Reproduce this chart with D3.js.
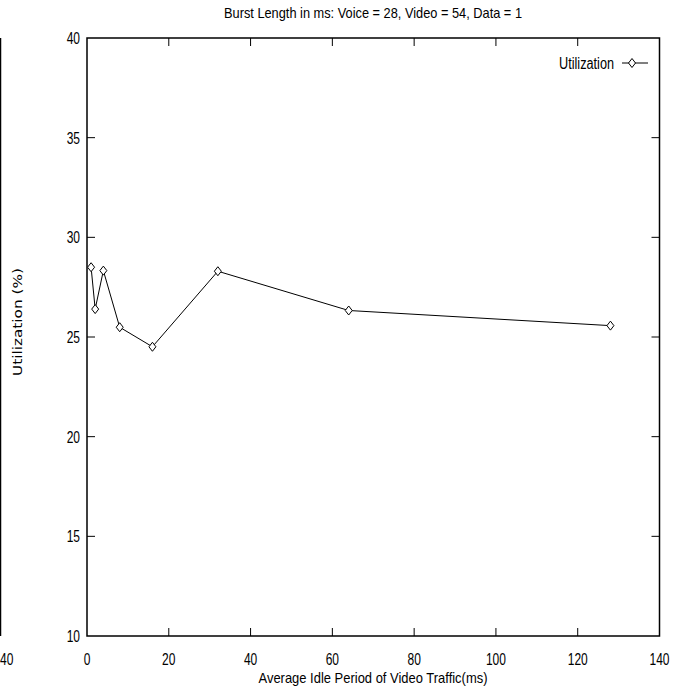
<!DOCTYPE html>
<html><head><meta charset="utf-8">
<script src="https://cdn.jsdelivr.net/npm/d3@7"></script>
<style>body{margin:0;background:#fff}svg{display:block}text{font-family:"Liberation Sans",Arial,sans-serif;fill:#000}</style>
</head><body><svg id="c" width="684" height="686"></svg>
<script>
const idlePeriod = [1, 2, 4, 8, 16, 32, 64, 128];
const utilization = [28.5, 26.4, 28.33, 25.49, 24.51, 28.3, 26.33, 25.57];
const xTicks = [0, 20, 40, 60, 80, 100, 120, 140];
const yTicks = [10, 15, 20, 25, 30, 35, 40];
const title = "Burst Length in ms: Voice = 28, Video = 54, Data = 1";
const xLabel = "Average Idle Period of Video Traffic(ms)";
const yLabel = "Utilization (%)";
const seriesName = "Utilization";

const svg = d3.select("#c");
const L = 87, R = 659.5, T = 38, B = 636;
const x = d3.scaleLinear().domain([0, 140]).range([L, R]);
const y = d3.scaleLinear().domain([10, 40]).range([B, T]);
const SX = 0.75;

function txt(g, px, py, s, anchor, size, len) {
  const t = g.append("text").attr("transform", `translate(${px},${py}) scale(${SX},1)`)
    .attr("text-anchor", anchor).attr("font-size", size).text(s);
  if (len) { t.attr("transform", `translate(${px},${py})`).attr("textLength", len).attr("lengthAdjust", "spacingAndGlyphs"); }
  return t;
}

// neighbouring chart fragment on the left edge
svg.append("line").attr("x1", 0.5).attr("x2", 0.5).attr("y1", T).attr("y2", B).attr("stroke", "#000").attr("stroke-width", 1.5);
txt(svg, 0, 665, "40", "start", 16);

// ticks
const tk = svg.append("g").attr("stroke", "#000").attr("stroke-width", 1);
xTicks.slice(1, -1).forEach(v => {
  tk.append("line").attr("x1", x(v)).attr("x2", x(v)).attr("y1", B).attr("y2", B - 8);
  tk.append("line").attr("x1", x(v)).attr("x2", x(v)).attr("y1", T).attr("y2", T + 8);
});
yTicks.slice(1, -1).forEach(v => {
  tk.append("line").attr("x1", L).attr("x2", L + 8).attr("y1", y(v)).attr("y2", y(v));
  tk.append("line").attr("x1", R).attr("x2", R - 8).attr("y1", y(v)).attr("y2", y(v));
});
xTicks.forEach(v => txt(svg, x(v), 665, String(v), "middle", 16));
yTicks.forEach(v => txt(svg, L - 7, y(v) + 6, String(v), "end", 16));

// frame
svg.append("rect").attr("x", L).attr("y", T).attr("width", R - L).attr("height", B - T)
  .attr("fill", "none").attr("stroke", "#000").attr("stroke-width", 1.5);

// labels
txt(svg, 373, 18, title, "middle", 15, 298);
txt(svg, 373, 683, xLabel, "middle", 15, 229);
svg.append("text").attr("transform", `translate(22,${322}) rotate(-90)`).attr("text-anchor", "middle")
  .style("font-family", "'DejaVu Sans'").attr("font-size", 13).attr("textLength", 108)
  .attr("lengthAdjust", "spacingAndGlyphs").attr("fill", "#222").text(yLabel);

// series
const pts = idlePeriod.map((d, i) => [d, utilization[i]]);
svg.append("path").datum(pts).attr("fill", "none").attr("stroke", "#000").attr("stroke-width", 1)
  .attr("d", d3.line().x(d => x(d[0])).y(d => y(d[1])));
const diamond = (cx, cy) => `M${cx},${cy - 4.5}L${cx + 3.5},${cy}L${cx},${cy + 4.5}L${cx - 3.5},${cy}Z`;
svg.append("g").selectAll("path").data(pts).join("path")
  .attr("d", d => diamond(x(d[0]), y(d[1]))).attr("fill", "#fff").attr("stroke", "#000").attr("stroke-width", 1);

// legend
txt(svg, 614, 69, seriesName, "end", 16, 55);
svg.append("line").attr("x1", 622).attr("x2", 648).attr("y1", 63).attr("y2", 63).attr("stroke", "#000");
svg.append("path").attr("d", diamond(632, 63)).attr("fill", "#fff").attr("stroke", "#000");
</script></body></html>
